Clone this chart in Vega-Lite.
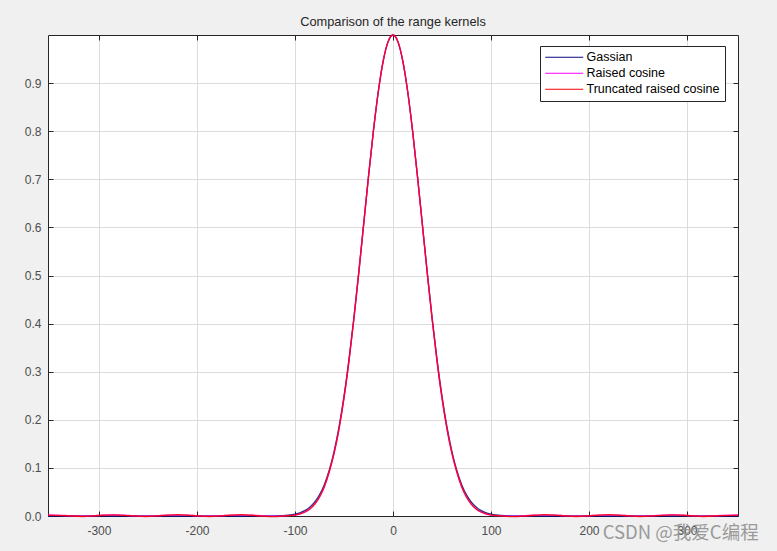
{
  "$schema": "https://vega.github.io/schema/vega-lite/v6.json",
  "autosize": {"type": "none"},
  "width": 690,
  "height": 481,
  "padding": {"left": 48, "top": 35, "right": 39, "bottom": 35},
  "background": "#f0f0f0",
  "config": {"view": {"fill": "white", "stroke": null}, "font": "Liberation Sans"},
  "title": {"text": "Comparison of the range kernels", "fontSize": 12.8, "fontWeight": "normal", "color": "#262626", "anchor": "middle", "offset": 3, "font": "Liberation Sans"},
  "datasets": {
    "kernels": [
      {"kernel": "Gassian", "x": -352, "y": 0},
      {"kernel": "Gassian", "x": -138, "y": 0},
      {"kernel": "Gassian", "x": -122, "y": 0.0003},
      {"kernel": "Gassian", "x": -110, "y": 0.0012},
      {"kernel": "Gassian", "x": -100, "y": 0.0039},
      {"kernel": "Gassian", "x": -95, "y": 0.0066},
      {"kernel": "Gassian", "x": -90, "y": 0.0111},
      {"kernel": "Gassian", "x": -85, "y": 0.0181},
      {"kernel": "Gassian", "x": -80, "y": 0.0286},
      {"kernel": "Gassian", "x": -75, "y": 0.0439},
      {"kernel": "Gassian", "x": -70, "y": 0.0657},
      {"kernel": "Gassian", "x": -65, "y": 0.0956},
      {"kernel": "Gassian", "x": -60, "y": 0.1353},
      {"kernel": "Gassian", "x": -55, "y": 0.1863},
      {"kernel": "Gassian", "x": -50, "y": 0.2494},
      {"kernel": "Gassian", "x": -45, "y": 0.3247},
      {"kernel": "Gassian", "x": -40, "y": 0.4111},
      {"kernel": "Gassian", "x": -35, "y": 0.5063},
      {"kernel": "Gassian", "x": -30, "y": 0.6065},
      {"kernel": "Gassian", "x": -25, "y": 0.7066},
      {"kernel": "Gassian", "x": -20, "y": 0.8007},
      {"kernel": "Gassian", "x": -15, "y": 0.8825},
      {"kernel": "Gassian", "x": -10, "y": 0.946},
      {"kernel": "Gassian", "x": -5, "y": 0.9862},
      {"kernel": "Gassian", "x": 0, "y": 1},
      {"kernel": "Gassian", "x": 5, "y": 0.9862},
      {"kernel": "Gassian", "x": 10, "y": 0.946},
      {"kernel": "Gassian", "x": 15, "y": 0.8825},
      {"kernel": "Gassian", "x": 20, "y": 0.8007},
      {"kernel": "Gassian", "x": 25, "y": 0.7066},
      {"kernel": "Gassian", "x": 30, "y": 0.6065},
      {"kernel": "Gassian", "x": 35, "y": 0.5063},
      {"kernel": "Gassian", "x": 40, "y": 0.4111},
      {"kernel": "Gassian", "x": 45, "y": 0.3247},
      {"kernel": "Gassian", "x": 50, "y": 0.2494},
      {"kernel": "Gassian", "x": 55, "y": 0.1863},
      {"kernel": "Gassian", "x": 60, "y": 0.1353},
      {"kernel": "Gassian", "x": 65, "y": 0.0956},
      {"kernel": "Gassian", "x": 70, "y": 0.0657},
      {"kernel": "Gassian", "x": 75, "y": 0.0439},
      {"kernel": "Gassian", "x": 80, "y": 0.0286},
      {"kernel": "Gassian", "x": 85, "y": 0.0181},
      {"kernel": "Gassian", "x": 90, "y": 0.0111},
      {"kernel": "Gassian", "x": 95, "y": 0.0066},
      {"kernel": "Gassian", "x": 100, "y": 0.0039},
      {"kernel": "Gassian", "x": 110, "y": 0.0012},
      {"kernel": "Gassian", "x": 122, "y": 0.0003},
      {"kernel": "Gassian", "x": 138, "y": 0},
      {"kernel": "Gassian", "x": 352, "y": 0},

      {"kernel": "Raised cosine", "x": -352, "y": 0.0025},
      {"kernel": "Raised cosine", "x": -334, "y": 0.001},
      {"kernel": "Raised cosine", "x": -317, "y": -0.0005},
      {"kernel": "Raised cosine", "x": -301, "y": 0.001},
      {"kernel": "Raised cosine", "x": -285, "y": 0.0025},
      {"kernel": "Raised cosine", "x": -269, "y": 0.001},
      {"kernel": "Raised cosine", "x": -252, "y": -0.0005},
      {"kernel": "Raised cosine", "x": -236, "y": 0.001},
      {"kernel": "Raised cosine", "x": -220, "y": 0.0025},
      {"kernel": "Raised cosine", "x": -204, "y": 0.001},
      {"kernel": "Raised cosine", "x": -187, "y": -0.0005},
      {"kernel": "Raised cosine", "x": -171, "y": 0.001},
      {"kernel": "Raised cosine", "x": -155, "y": 0.0025},
      {"kernel": "Raised cosine", "x": -138, "y": 0.001},
      {"kernel": "Raised cosine", "x": -122, "y": -0.0005},
      {"kernel": "Raised cosine", "x": -110, "y": 0.0005},
      {"kernel": "Raised cosine", "x": -100, "y": 0.002},
      {"kernel": "Raised cosine", "x": -95, "y": 0.004},
      {"kernel": "Raised cosine", "x": -90, "y": 0.008},
      {"kernel": "Raised cosine", "x": -85, "y": 0.014},
      {"kernel": "Raised cosine", "x": -80, "y": 0.024},
      {"kernel": "Raised cosine", "x": -75, "y": 0.039},
      {"kernel": "Raised cosine", "x": -70, "y": 0.061},
      {"kernel": "Raised cosine", "x": -65, "y": 0.092},
      {"kernel": "Raised cosine", "x": -60, "y": 0.1311},
      {"kernel": "Raised cosine", "x": -55, "y": 0.1818},
      {"kernel": "Raised cosine", "x": -50, "y": 0.2449},
      {"kernel": "Raised cosine", "x": -45, "y": 0.3205},
      {"kernel": "Raised cosine", "x": -40, "y": 0.4075},
      {"kernel": "Raised cosine", "x": -35, "y": 0.5034},
      {"kernel": "Raised cosine", "x": -30, "y": 0.6042},
      {"kernel": "Raised cosine", "x": -25, "y": 0.705},
      {"kernel": "Raised cosine", "x": -20, "y": 0.7998},
      {"kernel": "Raised cosine", "x": -15, "y": 0.882},
      {"kernel": "Raised cosine", "x": -10, "y": 0.9458},
      {"kernel": "Raised cosine", "x": -5, "y": 0.9862},
      {"kernel": "Raised cosine", "x": 0, "y": 1},
      {"kernel": "Raised cosine", "x": 5, "y": 0.9862},
      {"kernel": "Raised cosine", "x": 10, "y": 0.9458},
      {"kernel": "Raised cosine", "x": 15, "y": 0.882},
      {"kernel": "Raised cosine", "x": 20, "y": 0.7998},
      {"kernel": "Raised cosine", "x": 25, "y": 0.705},
      {"kernel": "Raised cosine", "x": 30, "y": 0.6042},
      {"kernel": "Raised cosine", "x": 35, "y": 0.5034},
      {"kernel": "Raised cosine", "x": 40, "y": 0.4075},
      {"kernel": "Raised cosine", "x": 45, "y": 0.3205},
      {"kernel": "Raised cosine", "x": 50, "y": 0.2449},
      {"kernel": "Raised cosine", "x": 55, "y": 0.1818},
      {"kernel": "Raised cosine", "x": 60, "y": 0.1311},
      {"kernel": "Raised cosine", "x": 65, "y": 0.092},
      {"kernel": "Raised cosine", "x": 70, "y": 0.061},
      {"kernel": "Raised cosine", "x": 75, "y": 0.039},
      {"kernel": "Raised cosine", "x": 80, "y": 0.024},
      {"kernel": "Raised cosine", "x": 85, "y": 0.014},
      {"kernel": "Raised cosine", "x": 90, "y": 0.008},
      {"kernel": "Raised cosine", "x": 95, "y": 0.004},
      {"kernel": "Raised cosine", "x": 100, "y": 0.002},
      {"kernel": "Raised cosine", "x": 110, "y": 0.0005},
      {"kernel": "Raised cosine", "x": 122, "y": -0.0005},
      {"kernel": "Raised cosine", "x": 138, "y": 0.001},
      {"kernel": "Raised cosine", "x": 155, "y": 0.0025},
      {"kernel": "Raised cosine", "x": 171, "y": 0.001},
      {"kernel": "Raised cosine", "x": 187, "y": -0.0005},
      {"kernel": "Raised cosine", "x": 204, "y": 0.001},
      {"kernel": "Raised cosine", "x": 220, "y": 0.0025},
      {"kernel": "Raised cosine", "x": 236, "y": 0.001},
      {"kernel": "Raised cosine", "x": 252, "y": -0.0005},
      {"kernel": "Raised cosine", "x": 269, "y": 0.001},
      {"kernel": "Raised cosine", "x": 285, "y": 0.0025},
      {"kernel": "Raised cosine", "x": 301, "y": 0.001},
      {"kernel": "Raised cosine", "x": 317, "y": -0.0005},
      {"kernel": "Raised cosine", "x": 334, "y": 0.001},
      {"kernel": "Raised cosine", "x": 352, "y": 0.0025},

      {"kernel": "Truncated raised cosine", "x": -352, "y": 0.002},
      {"kernel": "Truncated raised cosine", "x": -334, "y": 0.0008},
      {"kernel": "Truncated raised cosine", "x": -317, "y": -0.001},
      {"kernel": "Truncated raised cosine", "x": -301, "y": 0.001},
      {"kernel": "Truncated raised cosine", "x": -285, "y": 0.0025},
      {"kernel": "Truncated raised cosine", "x": -269, "y": 0.0008},
      {"kernel": "Truncated raised cosine", "x": -252, "y": -0.001},
      {"kernel": "Truncated raised cosine", "x": -236, "y": 0.001},
      {"kernel": "Truncated raised cosine", "x": -220, "y": 0.003},
      {"kernel": "Truncated raised cosine", "x": -204, "y": 0.001},
      {"kernel": "Truncated raised cosine", "x": -187, "y": -0.001},
      {"kernel": "Truncated raised cosine", "x": -171, "y": 0.001},
      {"kernel": "Truncated raised cosine", "x": -155, "y": 0.003},
      {"kernel": "Truncated raised cosine", "x": -138, "y": 0.0005},
      {"kernel": "Truncated raised cosine", "x": -122, "y": -0.0015},
      {"kernel": "Truncated raised cosine", "x": -110, "y": 0.0002},
      {"kernel": "Truncated raised cosine", "x": -100, "y": 0.0022},
      {"kernel": "Truncated raised cosine", "x": -95, "y": 0.0043},
      {"kernel": "Truncated raised cosine", "x": -90, "y": 0.0083},
      {"kernel": "Truncated raised cosine", "x": -85, "y": 0.0145},
      {"kernel": "Truncated raised cosine", "x": -80, "y": 0.0245},
      {"kernel": "Truncated raised cosine", "x": -75, "y": 0.0395},
      {"kernel": "Truncated raised cosine", "x": -70, "y": 0.0615},
      {"kernel": "Truncated raised cosine", "x": -65, "y": 0.0925},
      {"kernel": "Truncated raised cosine", "x": -60, "y": 0.1311},
      {"kernel": "Truncated raised cosine", "x": -55, "y": 0.1818},
      {"kernel": "Truncated raised cosine", "x": -50, "y": 0.2449},
      {"kernel": "Truncated raised cosine", "x": -45, "y": 0.3205},
      {"kernel": "Truncated raised cosine", "x": -40, "y": 0.4075},
      {"kernel": "Truncated raised cosine", "x": -35, "y": 0.5034},
      {"kernel": "Truncated raised cosine", "x": -30, "y": 0.6042},
      {"kernel": "Truncated raised cosine", "x": -25, "y": 0.705},
      {"kernel": "Truncated raised cosine", "x": -20, "y": 0.7998},
      {"kernel": "Truncated raised cosine", "x": -15, "y": 0.882},
      {"kernel": "Truncated raised cosine", "x": -10, "y": 0.9458},
      {"kernel": "Truncated raised cosine", "x": -5, "y": 0.9862},
      {"kernel": "Truncated raised cosine", "x": 0, "y": 1},
      {"kernel": "Truncated raised cosine", "x": 5, "y": 0.9862},
      {"kernel": "Truncated raised cosine", "x": 10, "y": 0.9458},
      {"kernel": "Truncated raised cosine", "x": 15, "y": 0.882},
      {"kernel": "Truncated raised cosine", "x": 20, "y": 0.7998},
      {"kernel": "Truncated raised cosine", "x": 25, "y": 0.705},
      {"kernel": "Truncated raised cosine", "x": 30, "y": 0.6042},
      {"kernel": "Truncated raised cosine", "x": 35, "y": 0.5034},
      {"kernel": "Truncated raised cosine", "x": 40, "y": 0.4075},
      {"kernel": "Truncated raised cosine", "x": 45, "y": 0.3205},
      {"kernel": "Truncated raised cosine", "x": 50, "y": 0.2449},
      {"kernel": "Truncated raised cosine", "x": 55, "y": 0.1818},
      {"kernel": "Truncated raised cosine", "x": 60, "y": 0.1311},
      {"kernel": "Truncated raised cosine", "x": 65, "y": 0.0925},
      {"kernel": "Truncated raised cosine", "x": 70, "y": 0.0615},
      {"kernel": "Truncated raised cosine", "x": 75, "y": 0.0395},
      {"kernel": "Truncated raised cosine", "x": 80, "y": 0.0245},
      {"kernel": "Truncated raised cosine", "x": 85, "y": 0.0145},
      {"kernel": "Truncated raised cosine", "x": 90, "y": 0.0083},
      {"kernel": "Truncated raised cosine", "x": 95, "y": 0.0043},
      {"kernel": "Truncated raised cosine", "x": 100, "y": 0.0022},
      {"kernel": "Truncated raised cosine", "x": 110, "y": 0.0002},
      {"kernel": "Truncated raised cosine", "x": 122, "y": -0.0015},
      {"kernel": "Truncated raised cosine", "x": 138, "y": 0.0005},
      {"kernel": "Truncated raised cosine", "x": 155, "y": 0.003},
      {"kernel": "Truncated raised cosine", "x": 171, "y": 0.001},
      {"kernel": "Truncated raised cosine", "x": 187, "y": -0.001},
      {"kernel": "Truncated raised cosine", "x": 204, "y": 0.001},
      {"kernel": "Truncated raised cosine", "x": 220, "y": 0.003},
      {"kernel": "Truncated raised cosine", "x": 236, "y": 0.001},
      {"kernel": "Truncated raised cosine", "x": 252, "y": -0.001},
      {"kernel": "Truncated raised cosine", "x": 269, "y": 0.0008},
      {"kernel": "Truncated raised cosine", "x": 285, "y": 0.0025},
      {"kernel": "Truncated raised cosine", "x": 301, "y": 0.001},
      {"kernel": "Truncated raised cosine", "x": 317, "y": -0.001},
      {"kernel": "Truncated raised cosine", "x": 334, "y": 0.0008},
      {"kernel": "Truncated raised cosine", "x": 352, "y": 0.002}
    ]
  },
  "layer": [
    {
      "data": {"name": "kernels"},
      "mark": {"type": "point", "opacity": 0},
      "encoding": {
        "x": {"field": "x", "type": "quantitative", "scale": {"domain": [-352, 352], "nice": false, "zero": false},
          "axis": {"orient": "top", "values": [-300, -200, -100, 0, 100, 200, 300], "labels": false, "grid": false, "title": null, "domainColor": "#262626", "tickColor": "#262626", "tickSize": -5}},
        "y": {"field": "y", "type": "quantitative", "scale": {"domain": [0, 1], "nice": false},
          "axis": {"orient": "right", "values": [0, 0.1, 0.2, 0.3, 0.4, 0.5, 0.6, 0.7, 0.8, 0.9], "labels": false, "grid": false, "title": null, "domainColor": "#262626", "tickColor": "#262626", "tickSize": -5}}
      }
    },
    {
      "data": {"name": "kernels"},
      "mark": {"type": "line", "strokeWidth": 1.3, "opacity": 0.85, "interpolate": "monotone", "clip": false},
      "encoding": {
        "x": {"field": "x", "type": "quantitative", "scale": {"domain": [-352, 352], "nice": false, "zero": false},
          "axis": {"orient": "bottom", "values": [-300, -200, -100, 0, 100, 200, 300], "labelExpr": "'' + datum.value", "labelFontSize": 12, "labelFont": "Liberation Sans", "labelColor": "#4d4d4d", "domainColor": "#262626", "tickColor": "#262626", "tickSize": -5, "labelPadding": 14, "grid": true, "gridColor": "#dcdcdc", "title": null}},
        "y": {"field": "y", "type": "quantitative", "scale": {"domain": [0, 1], "nice": false},
          "axis": {"orient": "left", "values": [0, 0.1, 0.2, 0.3, 0.4, 0.5, 0.6, 0.7, 0.8, 0.9], "labelFontSize": 12, "labelFont": "Liberation Sans", "labelColor": "#4d4d4d", "domainColor": "#262626", "tickColor": "#262626", "tickSize": -5, "labelPadding": 12, "grid": true, "gridColor": "#dcdcdc", "title": null}},
        "color": {"field": "kernel", "type": "nominal",
          "scale": {"domain": ["Gassian", "Raised cosine", "Truncated raised cosine"], "range": ["#0a0a80", "#ff00ff", "#ff0000"]},
          "legend": {"orient": "none", "legendX": 492, "legendY": 11, "title": null, "symbolType": "M-1.2,0H6.4", "symbolSize": 100, "symbolStrokeWidth": 1, "symbolOpacity": 1, "labelFontSize": 12.5, "labelFont": "Liberation Sans", "labelColor": "#000000", "fillColor": "white", "strokeColor": "#262626", "padding": 5, "rowPadding": 3, "labelOffset": 29, "labelLimit": 300}}
      }
    },
    {
      "data": {"values": [{"x": 214, "y": -0.035, "label": "CSDN @我爱C编程"}]},
      "mark": {"type": "text", "align": "left", "baseline": "middle", "fontSize": 18.5, "font": "Noto Sans CJK SC", "color": "#8c8c8c", "opacity": 0.85, "clip": false},
      "encoding": {
        "x": {"field": "x", "type": "quantitative", "axis": null},
        "y": {"field": "y", "type": "quantitative", "axis": null},
        "text": {"field": "label"}
      }
    }
  ],
  "resolve": {"axis": {"x": "independent", "y": "independent"}}
}
